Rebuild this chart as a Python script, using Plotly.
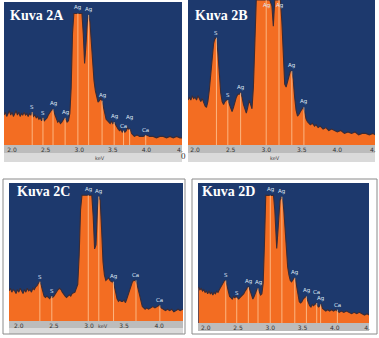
import plotly.graph_objects as go

W, H = 379, 338

# ---------------- data (relative counts) ----------------
xA = [1.88,1.90,1.92,1.94,1.96,1.98,2.00,2.02,2.04,2.06,2.08,2.10,2.12,2.14,2.16,2.18,2.20,2.22,2.24,2.26,2.28,2.30,
      2.32,2.34,2.36,2.38,2.40,2.42,2.44,2.46,2.48,2.50,2.52,2.54,2.56,2.58,2.60,2.62,2.64,2.66,2.68,2.70,2.72,2.74,
      2.76,2.78,2.80,2.82,2.84,2.86,2.88,2.90,2.92,2.95,3.00,3.04,3.06,3.08,3.10,3.12,3.14,3.16,3.18,3.20,3.22,3.24,
      3.26,3.28,3.30,3.32,3.34,3.36,3.38,3.40,3.42,3.44,3.46,3.48,3.50,3.52,3.54,3.56,3.58,3.60,3.62,3.64,3.66,3.68,
      3.70,3.72,3.74,3.76,3.78,3.80,3.82,3.86,3.90,3.95,4.00,4.05,4.10,4.15,4.20,4.25,4.30,4.35,4.40,4.45,4.50,4.53]
yA = [21,23,20,22,24,21,23,20,22,24,21,23,20,22,21,23,21,22,20,22,21,23,
      20,21,19,20,18,19,17,19,17,18,19,21,23,24,25,24,21,18,16,17,15,16,
      18,19,18,16,17,22,40,78,92,92,92,92,78,57,70,86,91,86,72,58,45,38,
      33,30,31,33,31,27,22,18,17,16,15,17,15,16,14,12,11,10,11,9,10,9,
      10,12,11,11,8,7,6,7,6,6,7,6,6,5,6,6,5,6,5,6,5,5]

xB = [1.90,1.92,1.94,1.96,1.98,2.00,2.02,2.04,2.06,2.08,2.10,2.12,2.14,2.16,2.18,2.20,2.22,2.24,2.26,2.28,2.30,2.32,
      2.34,2.36,2.38,2.40,2.42,2.44,2.46,2.48,2.50,2.52,2.54,2.56,2.58,2.60,2.62,2.64,2.66,2.68,2.70,2.72,2.74,2.76,
      2.78,2.80,2.82,2.84,2.86,2.92,3.00,3.05,3.08,3.10,3.12,3.18,3.20,3.22,3.24,3.26,3.28,3.30,3.32,3.34,3.36,3.38,
      3.40,3.42,3.44,3.46,3.48,3.50,3.52,3.54,3.56,3.58,3.60,3.62,3.65,3.68,3.70,3.73,3.76,3.80,3.84,3.88,3.92,3.96,
      4.00,4.05,4.10,4.15,4.20,4.25,4.30,4.35,4.40,4.45,4.50,4.53]
yB = [31,33,31,34,32,33,31,34,32,30,32,29,27,26,30,38,50,62,70,74,73,64,
      50,36,30,28,30,31,31,28,25,23,26,30,33,35,35,36,33,28,24,22,26,31,
      28,25,40,75,100,100,100,100,96,82,100,100,100,85,60,42,40,44,48,51,51,45,
      33,24,20,21,23,25,26,23,18,16,15,14,15,13,14,12,13,11,12,10,11,10,
      9,10,8,9,8,9,7,8,8,7,8,7]

xC = [1.86,1.88,1.90,1.92,1.94,1.96,1.98,2.00,2.02,2.04,2.06,2.08,2.10,2.12,2.14,2.16,2.18,2.20,2.22,2.24,2.26,2.28,
      2.30,2.32,2.34,2.36,2.38,2.40,2.42,2.44,2.46,2.48,2.50,2.52,2.54,2.56,2.58,2.60,2.62,2.64,2.66,2.68,2.70,2.72,
      2.74,2.76,2.80,2.84,2.86,2.88,2.90,2.98,3.04,3.06,3.08,3.10,3.12,3.14,3.16,3.18,3.20,3.22,3.24,3.26,3.28,3.30,
      3.32,3.34,3.36,3.38,3.40,3.42,3.44,3.46,3.48,3.50,3.52,3.54,3.56,3.58,3.60,3.62,3.64,3.66,3.68,3.70,3.72,3.74,
      3.76,3.78,3.80,3.82,3.85,3.88,3.91,3.94,3.97,4.00,4.03,4.06,4.09,4.12,4.15,4.18,4.21,4.24,4.27,4.30,4.34]
yC = [23,25,22,24,23,21,24,22,25,23,21,24,22,25,23,24,22,25,24,26,27,29,
      30,27,23,19,18,19,18,17,19,18,19,21,22,24,25,24,22,20,19,18,19,20,
      19,21,22,28,50,85,96,96,96,80,55,58,85,95,92,70,45,35,31,32,33,31,
      30,30,27,22,17,15,16,15,15,16,14,17,20,23,27,30,31,31,29,25,20,15,
      11,10,9,10,9,10,11,10,11,12,10,9,8,9,8,9,7,8,9,8,9]

xD = [1.89,1.91,1.93,1.95,1.97,1.99,2.01,2.03,2.05,2.07,2.09,2.11,2.13,2.15,2.17,2.19,2.21,2.23,2.25,2.27,2.29,2.31,
      2.33,2.35,2.37,2.39,2.41,2.43,2.45,2.47,2.49,2.51,2.53,2.55,2.57,2.59,2.61,2.63,2.65,2.67,2.69,2.71,2.73,2.75,
      2.77,2.79,2.81,2.83,2.85,2.87,2.89,2.91,2.93,2.95,3.05,3.07,3.09,3.10,3.12,3.15,3.17,3.19,3.21,3.23,3.25,3.27,
      3.29,3.31,3.33,3.35,3.37,3.39,3.41,3.43,3.45,3.47,3.49,3.51,3.53,3.55,3.57,3.59,3.61,3.63,3.65,3.67,3.69,3.71,
      3.73,3.75,3.77,3.79,3.81,3.83,3.86,3.89,3.92,3.95,3.98,4.01,4.04,4.07,4.10,4.14,4.18,4.22,4.26,4.30,4.34,4.38,
      4.42,4.46,4.50,4.53]
yD = [27,25,26,24,25,23,24,22,24,22,23,21,23,22,24,23,25,27,29,31,32,32,
      28,24,20,19,18,20,19,20,19,18,19,20,21,22,24,26,27,27,24,20,18,20,
      23,25,26,23,21,22,30,60,96,96,96,85,60,56,70,92,95,93,85,68,52,42,
      36,32,31,33,34,33,27,20,16,15,16,18,19,20,18,15,13,12,14,13,14,15,
      13,12,13,14,11,10,9,10,9,10,9,10,9,8,9,8,9,8,7,8,7,8,
      7,6,7,6]

# peak markers: element, keV, height
peakElA = ["S", "S", "Ag", "Ag", "Ag", "Ag", "Ag", "Ag", "Ca", "Ag", "Ca"]
peakXA = [2.30, 2.46, 2.61, 2.79, 2.98, 3.14, 3.34, 3.52, 3.66, 3.75, 3.99]
peakYA = [23, 19, 25, 19, 92, 91, 31, 16, 10, 11, 7]

peakElB = ["S", "S", "Ag", "Ag", "Ag", "Ag", "Ag"]
peakXB = [2.30, 2.46, 2.64, 3.00, 3.18, 3.36, 3.53]
peakYB = [74, 31, 36, 100, 100, 51, 26]

peakElC = ["S", "S", "Ag", "Ag", "Ag", "Ca", "Ca"]
peakXC = [2.30, 2.47, 2.99, 3.14, 3.35, 3.67, 4.01]
peakYC = [30, 19, 96, 95, 30, 31, 12]

peakElD = ["S", "S", "Ag", "Ag", "Ag", "Ag", "Ag", "Ag", "Ca", "Ag", "Ca"]
peakXD = [2.31, 2.48, 2.66, 2.81, 3.00, 3.18, 3.38, 3.56, 3.72, 3.78, 4.04]
peakYD = [32, 19, 27, 26, 96, 95, 34, 20, 15, 14, 10]

titles = ["Kuva 2A", "Kuva 2B", "Kuva 2C", "Kuva 2D"]
tickVals = [2.0, 2.5, 3.0, 3.5, 4.0, 4.5]
tickText = ["2.0", "2.5", "3.0", "3.5", "4.0", "4."]
xRanges = [[1.88, 4.53], [1.90, 4.53], [1.86, 4.34], [1.88, 4.53]]
yTop = [100, 100, 105.3, 105.3]

# ---------------- styling / geometry (pixels) ----------------
boxes = [(4, 182, 2, 145), (188, 375, 0, 145), (9, 183, 183, 321), (198, 369, 183, 323)]
bandH = [8, 8, 7, 8]
lightH = [9, 9, 6, 0]
showKeV = [True, True, True, False]
titlePos = [(8, 15), (193, 15), (15, 191), (200, 191)]
labelLift = [{9: 6}, {}, {}, {8: 6}]   # extra pixel lift for crowded peak labels

BG = "#1d396d"
ORANGE = "#f36d22"
EDGE = "#3a2c36"

series = [(xA, yA, peakElA, peakXA, peakYA), (xB, yB, peakElB, peakXB, peakYB),
          (xC, yC, peakElC, peakXC, peakYC), (xD, yD, peakElD, peakXD, peakYD)]

fig = go.Figure()
shapes = []
annotations = []
layout = {}

for i, ((xs, ys, els, pxs, pys), (l, r, t, b)) in enumerate(zip(series, boxes)):
    n = "" if i == 0 else str(i + 1)
    xa, ya = "x" + n, "y" + n
    fig.add_trace(go.Scatter(x=xs, y=ys, mode="lines", fill="tozeroy",
                             fillcolor=ORANGE, line=dict(color=EDGE, width=1.1),
                             xaxis=xa, yaxis=ya, showlegend=False, hoverinfo="skip"))
    lx, ly = [], []
    for px, py in zip(pxs, pys):
        lx += [px, px, None]
        ly += [0, py, None]
    fig.add_trace(go.Scatter(x=lx, y=ly, mode="lines",
                             line=dict(color="rgba(255,205,160,0.75)", width=1),
                             xaxis=xa, yaxis=ya, showlegend=False, hoverinfo="skip"))
    for k, (el, px, py) in enumerate(zip(els, pxs, pys)):
        atTop = py >= yTop[i] - 1
        annotations.append(dict(x=px, y=yTop[i] if atTop else py, xref=xa, yref=ya, text=el,
                                showarrow=False, yanchor="top" if atTop else "bottom",
                                yshift=labelLift[i].get(k, 0),
                                font=dict(size=5.5, color="#dfe8f7", family="DejaVu Sans")))
    layout["xaxis" + n] = dict(domain=[l / W, r / W], range=xRanges[i], anchor=ya,
                               tickvals=tickVals, ticktext=tickText, ticks="",
                               showgrid=False, zeroline=False, showline=False,
                               tickfont=dict(size=6, color="#333333", family="DejaVu Sans"),
                               ticklabelstandoff=0, fixedrange=True)
    layout["yaxis" + n] = dict(domain=[1 - b / H, 1 - t / H], range=[0, yTop[i]], anchor=xa,
                               visible=False, fixedrange=True)
    shapes.append(dict(type="rect", xref="paper", yref="paper", layer="below",
                       x0=l / W, x1=r / W, y0=1 - (b + bandH[i]) / H, y1=1 - b / H,
                       fillcolor="#bcbcbc", line=dict(width=0)))
    if lightH[i] > 0:
        shapes.append(dict(type="rect", xref="paper", yref="paper", layer="below",
                           x0=l / W, x1=r / W, y0=1 - (b + bandH[i] + lightH[i]) / H,
                           y1=1 - (b + bandH[i]) / H,
                           fillcolor="#dadada", line=dict(width=0)))
    if showKeV[i]:
        annotations.append(dict(x=(l + r) / 2 / W, y=1 - (b + bandH[i] + lightH[i] / 2) / H,
                                xref="paper", yref="paper", text="keV", showarrow=False,
                                font=dict(size=5, color="#444444", family="DejaVu Sans")))
    tx, ty = titlePos[i]
    annotations.append(dict(x=tx / W, y=1 - ty / H, xref="paper", yref="paper",
                            text="<b>" + titles[i] + "</b>",
                            showarrow=False, xanchor="left", yanchor="middle",
                            font=dict(size=14, color="white", family="Liberation Serif")))

# frames around lower panels
for (x0, x1, y0, y1) in [(3, 185, 179, 334), (192, 377, 179, 334)]:
    shapes.append(dict(type="rect", xref="paper", yref="paper", layer="below",
                       x0=x0 / W, x1=x1 / W, y0=1 - y1 / H, y1=1 - y0 / H,
                       fillcolor="rgba(0,0,0,0)", line=dict(color="#8a8a8a", width=1)))

annotations.append(dict(x=183 / W, y=1 - 156 / H, xref="paper", yref="paper", text="0",
                        showarrow=False, font=dict(size=9, color="#333333", family="Liberation Serif")))

fig.update_layout(width=W, height=H, margin=dict(l=0, r=0, t=0, b=0),
                  paper_bgcolor="white", plot_bgcolor=BG,
                  shapes=shapes, annotations=annotations, **layout)

fig.write_html("out.html")
